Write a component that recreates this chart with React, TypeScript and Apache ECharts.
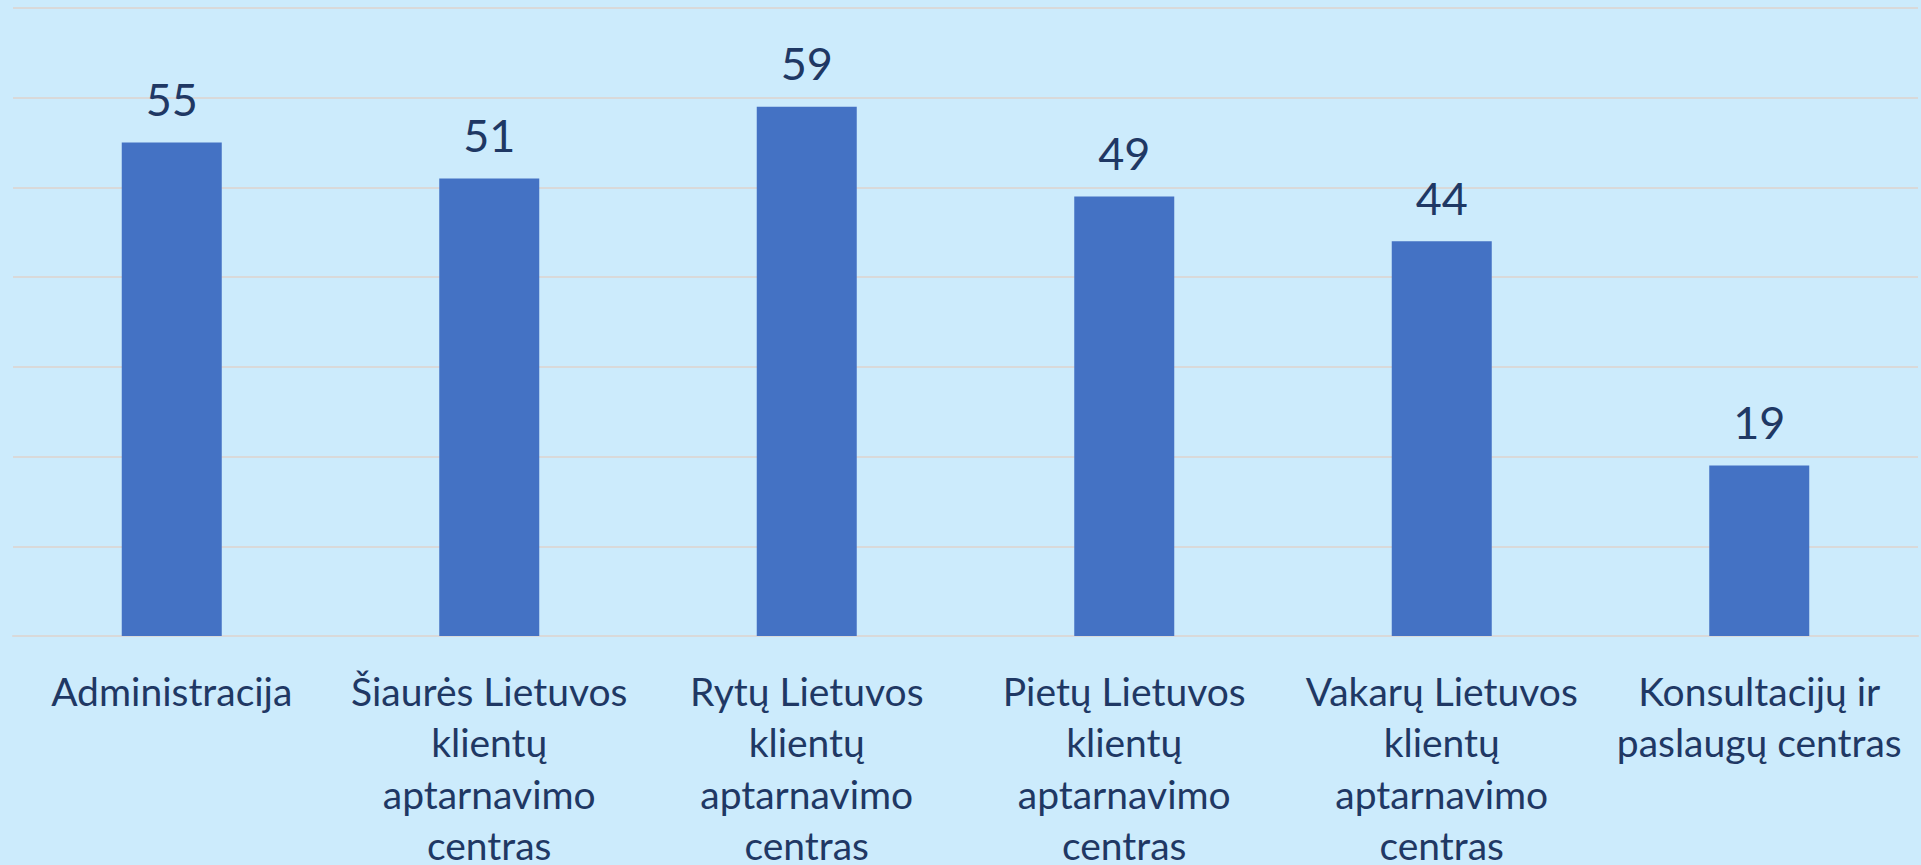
import React, { useEffect, useRef } from "react";
import * as echarts from "echarts";

const categories: string[] = [
  "Administracija",
  "Šiaurės Lietuvos\nklientų\naptarnavimo\ncentras",
  "Rytų Lietuvos\nklientų\naptarnavimo\ncentras",
  "Pietų Lietuvos\nklientų\naptarnavimo\ncentras",
  "Vakarų Lietuvos\nklientų\naptarnavimo\ncentras",
  "Konsultacijų ir\npaslaugų centras",
];
const values: number[] = [55, 51, 59, 49, 44, 19];
const yMin = 0;
const yMax = 70;
const yInterval = 10;

export default function App() {
  const ref = useRef<HTMLDivElement>(null);
  useEffect(() => {
    document.body.style.margin = "0";
    document.body.style.overflow = "hidden";
    document.documentElement.style.overflow = "hidden";
    if (!ref.current) return;
    const chart = echarts.init(ref.current, undefined, { renderer: "svg" });
    const textColor = "#1F3864";
    chart.setOption({
      animation: false,
      backgroundColor: "#CCEBFC",
      grid: {
        left: 13,
        right: 3,
        top: 8,
        bottom: 229,
        containLabel: false,
        outerBoundsMode: "none",
      },
      xAxis: {
        type: "category",
        data: categories,
        axisLine: { show: true, lineStyle: { color: "#D9D9D9", width: 2 } },
        axisTick: { show: false },
        axisLabel: {
          interval: 0,
          margin: 29,
          color: textColor,
          fontFamily: "Lato",
          fontSize: 39,
          lineHeight: 51.5,
          align: "center",
        },
      },
      yAxis: {
        type: "value",
        min: yMin,
        max: yMax,
        interval: yInterval,
        axisLabel: { show: false },
        axisLine: { show: false },
        axisTick: { show: false },
        splitLine: { show: true, lineStyle: { color: "#D9D9D9", width: 2 } },
      },
      series: [
        {
          type: "bar",
          data: values,
          barWidth: 100,
          itemStyle: { color: "#4472C4" },
          label: {
            show: true,
            position: "top",
            distance: 21,
            color: textColor,
            fontFamily: "Lato",
            fontSize: 45,
          },
        },
      ],
    });
    return () => chart.dispose();
  }, []);
  return (
    <div style={{ width: 1921, height: 865, overflow: "hidden", position: "relative" }}>
      <div ref={ref} style={{ width: 1921, height: 865 }} />
    </div>
  );
}
